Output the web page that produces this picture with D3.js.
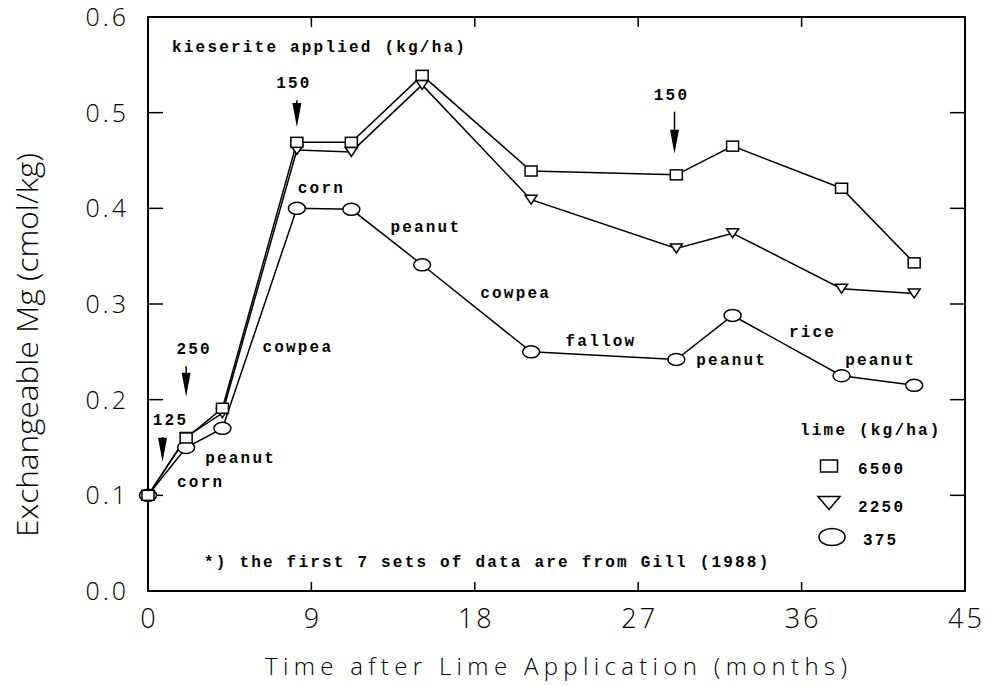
<!DOCTYPE html>
<html>
<head>
<meta charset="utf-8">
<script src="https://cdn.jsdelivr.net/npm/d3@7"></script>
<style>
  body { margin: 0; background: #fff; }
  .tick-label { font-family: "Open Sans", "DejaVu Sans", sans-serif; font-weight: 300; font-size: 27px; letter-spacing: 3px; fill: #000; }
  .axis-title { font-family: "Open Sans", "DejaVu Sans", sans-serif; font-weight: 300; fill: #000; }
  .mono { font-family: "Liberation Mono", "DejaVu Sans Mono", monospace; font-weight: bold; font-size: 16px; letter-spacing: 2.2px; fill: #000; }
</style>
</head>
<body>
<div id="chart"></div>
<script>
// months after lime application
var months = [0, 2.1, 4.1, 8.2, 11.2, 15.1, 21.1, 29.1, 32.2, 38.2, 42.2];
// exchangeable Mg (cmol/kg) per lime rate
var mg6500 = [0.100, 0.160, 0.191, 0.469, 0.469, 0.539, 0.439, 0.435, 0.465, 0.421, 0.343];
var mg2250 = [0.100, 0.161, 0.186, 0.461, 0.459, 0.529, 0.409, 0.358, 0.374, 0.316, 0.311];
var mg375  = [0.100, 0.150, 0.170, 0.400, 0.399, 0.341, 0.250, 0.242, 0.288, 0.225, 0.215];

var xTicks = [0, 9, 18, 27, 36, 45];
var yTicks = [0.0, 0.1, 0.2, 0.3, 0.4, 0.5, 0.6];

// kieserite applications
var kieseriteMonths = [0.8, 2.1, 8.2, 29.0];
var kieseriteRates = ["125", "250", "150", "150"];
var arrowTips = [0.135, 0.203, 0.485, 0.457];
var arrowTops = [0.161, 0.235, 0.513, 0.501];

// crop labels (month, value of the text baseline start)
var cropNames = ["corn", "peanut", "cowpea", "corn", "peanut", "cowpea", "fallow", "peanut", "rice", "peanut"];
var cropMonths = [1.6, 3.15, 6.3, 8.25, 13.35, 18.3, 23.0, 30.2, 35.3, 38.4];
var cropValues = [0.109, 0.134, 0.250, 0.416, 0.375, 0.306, 0.256, 0.236, 0.265, 0.236];

var limeRates = ["6500", "2250", "375"];

var W = 989, H = 685;
var svg = d3.select("#chart").append("svg")
    .attr("width", W).attr("height", H);

var x = d3.scaleLinear().domain([0, 45]).range([148, 965]);
var y = d3.scaleLinear().domain([0, 0.6]).range([591, 17]);

// frame
svg.append("rect")
    .attr("x", x(0)).attr("y", y(0.6))
    .attr("width", x(45) - x(0)).attr("height", y(0) - y(0.6))
    .attr("fill", "none").attr("stroke", "#000").attr("stroke-width", 2);

// inward ticks
var inner = xTicks.slice(1, -1);
svg.selectAll(".xtb").data(inner).enter().append("line")
    .attr("x1", d => x(d)).attr("x2", d => x(d))
    .attr("y1", y(0)).attr("y2", y(0) - 9)
    .attr("stroke", "#000").attr("stroke-width", 1.5);
svg.selectAll(".xtt").data(inner).enter().append("line")
    .attr("x1", d => x(d)).attr("x2", d => x(d))
    .attr("y1", y(0.6)).attr("y2", y(0.6) + 10)
    .attr("stroke", "#000").attr("stroke-width", 1.5);
var yInner = yTicks.slice(1, -1);
svg.selectAll(".ytl").data(yInner).enter().append("line")
    .attr("x1", x(0)).attr("x2", x(0) + 15)
    .attr("y1", d => y(d)).attr("y2", d => y(d))
    .attr("stroke", "#000").attr("stroke-width", 1.5);
svg.selectAll(".ytr").data(yInner).enter().append("line")
    .attr("x1", x(45)).attr("x2", x(45) - 15)
    .attr("y1", d => y(d)).attr("y2", d => y(d))
    .attr("stroke", "#000").attr("stroke-width", 1.5);

// tick labels
svg.selectAll(".xl").data(xTicks).enter().append("text")
    .attr("class", "tick-label")
    .attr("x", d => x(d) + 1.5).attr("y", 628)
    .attr("text-anchor", "middle")
    .text(d => d);
svg.selectAll(".yl").data(yTicks).enter().append("text")
    .attr("class", "tick-label")
    .attr("x", 129).attr("y", d => y(d) + 9)
    .attr("text-anchor", "end")
    .style("font-size", "25px")
    .text(d => d.toFixed(1));

// axis titles
svg.append("text")
    .attr("class", "axis-title")
    .attr("x", 556).attr("y", 675)
    .attr("text-anchor", "middle")
    .attr("font-size", 24)
    .attr("textLength", 582).attr("lengthAdjust", "spacing")
    .text("Time after Lime Application (months)");
svg.append("text")
    .attr("class", "axis-title")
    .attr("transform", "translate(38,345) rotate(-90)")
    .attr("text-anchor", "middle")
    .attr("font-size", 30)
    .attr("textLength", 384).attr("lengthAdjust", "spacingAndGlyphs")
    .text("Exchangeable Mg (cmol/kg)");

// series lines
var line = d3.line()
    .x(function(d, i) { return x(months[i]); })
    .y(function(d) { return y(d); });

[mg375, mg2250, mg6500].forEach(function(s) {
  svg.append("path")
      .datum(s)
      .attr("d", line)
      .attr("fill", "none").attr("stroke", "#000").attr("stroke-width", 1.5);
});

// markers
function drawSquare(g, cx, cy, w, h) {
  g.append("rect").attr("x", cx - w / 2).attr("y", cy - h / 2)
      .attr("width", w).attr("height", h)
      .attr("fill", "#fff").attr("stroke", "#000").attr("stroke-width", 1.5);
}
function drawTri(g, cx, cy, w, h) {
  g.append("path")
      .attr("d", "M" + (cx - w / 2) + "," + (cy - h / 2) + "L" + (cx + w / 2) + "," + (cy - h / 2) + "L" + cx + "," + (cy + h / 2) + "Z")
      .attr("fill", "#fff").attr("stroke", "#000").attr("stroke-width", 1.5);
}
function drawEllipse(g, cx, cy, rx, ry) {
  g.append("ellipse").attr("cx", cx).attr("cy", cy).attr("rx", rx).attr("ry", ry)
      .attr("fill", "#fff").attr("stroke", "#000").attr("stroke-width", 1.5);
}

var marks = svg.append("g");
mg375.forEach(function(v, i) { drawEllipse(marks, x(months[i]), y(v), 8.5, 6); });
mg2250.forEach(function(v, i) { drawTri(marks, x(months[i]), y(v), 12, 9); });
mg6500.forEach(function(v, i) { drawSquare(marks, x(months[i]), y(v), 12, 10); });

// kieserite arrows
var ann = svg.append("g");
kieseriteMonths.forEach(function(m, i) {
  var ax = x(m), tip = y(arrowTips[i]), top = y(arrowTops[i]);
  ann.append("line").attr("x1", ax).attr("x2", ax).attr("y1", top).attr("y2", tip - 8)
      .attr("stroke", "#000").attr("stroke-width", 1.5);
  var hl = Math.min(24, tip - top);
  ann.append("path")
      .attr("d", "M" + (ax - 4.5) + "," + (tip - hl) + "L" + (ax + 4.5) + "," + (tip - hl) + "L" + ax + "," + tip + "Z")
      .attr("fill", "#000");
  ann.append("text").attr("class", "mono")
      .attr("x", ax + (i < 2 ? 8 : -3)).attr("y", top - 12)
      .attr("text-anchor", "middle")
      .text(kieseriteRates[i]);
});
ann.append("text").attr("class", "mono")
    .attr("x", 172).attr("y", 52)
    .text("kieserite applied (kg/ha)");

// crop labels
cropNames.forEach(function(c, i) {
  ann.append("text").attr("class", "mono")
      .attr("x", x(cropMonths[i])).attr("y", y(cropValues[i]))
      .text(c);
});

// footnote
ann.append("text").attr("class", "mono")
    .attr("x", 204).attr("y", 567)
    .text("*) the first 7 sets of data are from Gill (1988)");

// legend
var leg = svg.append("g");
leg.append("text").attr("class", "mono")
    .attr("x", 800).attr("y", 435)
    .text("lime (kg/ha)");
drawSquare(leg, 829, 466, 17, 12);
drawTri(leg, 829, 503, 22, 13);
drawEllipse(leg, 832, 537, 13, 8.5);
leg.selectAll(".lt").data(limeRates).enter().append("text")
    .attr("class", "mono")
    .attr("x", (d, i) => i === 2 ? 863 : 858)
    .attr("y", (d, i) => [474, 512, 545][i])
    .attr("font-size", 14)
    .text(d => d);
</script>
</body>
</html>
